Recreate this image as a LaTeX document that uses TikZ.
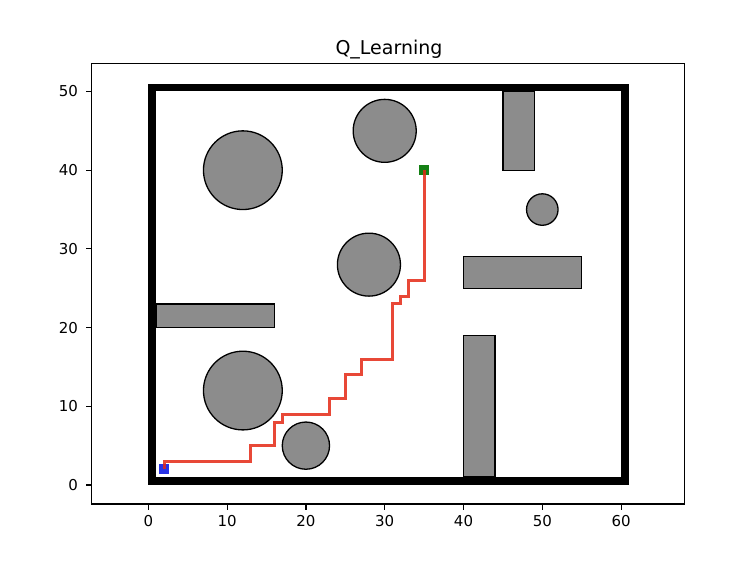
\documentclass[tikz,border=0pt]{standalone}
\usepackage{fontspec}
\setmainfont{DejaVu Sans}
\begin{document}
\begin{tikzpicture}[x=1pt,y=1pt,
  obst/.style={fill=obgray,draw=black,line width=1.3pt},
  wall/.style={fill=black,draw=none},
  tick/.style={line width=1.2pt},
  ticklab/.style={font=\fontsize{15}{18}\selectfont,inner sep=0pt},
  route/.style={draw=routered,line width=3pt,opacity=0.85},
  marker/.style={minimum size=10pt,inner sep=0pt,draw=none}]
\definecolor{obgray}{RGB}{140,140,140}
\definecolor{routered}{RGB}{228,40,20}
\definecolor{startblue}{RGB}{40,50,230}
\definecolor{goalgreen}{RGB}{20,128,20}
\useasboundingbox (0,0) rectangle (756,565);
\node[font=\fontsize{19}{22}\selectfont,anchor=base] (title) at (389,510) {Q\_Learning};
\begin{scope}[shift={(148.3,80)},x=7.88pt,y=7.87pt]
  % axes frame
  \draw[line width=1.2pt] (-7.18,-2.41) rectangle (68.0,53.58);
  % ticks
  \foreach \v in {0,10,...,60} {
    \draw[tick] (\v,-2.41) -- ++(0,-5.7pt);
    \node[ticklab,anchor=north] (xt\v) at ([yshift=-11pt]\v,-2.41) {\v};
  }
  \foreach \v in {0,10,...,50} {
    \draw[tick] (-7.18,\v) -- ++(-5.7pt,0);
    \node[ticklab,anchor=east] (yt\v) at ([xshift=-13.5pt]-7.18,\v) {\v};
  }
  % obstacles
  \draw[obst] (12,40) circle[radius=5];
  \draw[obst] (30,45) circle[radius=4];
  \draw[obst] (28,28) circle[radius=4];
  \draw[obst] (50,35) circle[radius=2];
  \draw[obst] (12,12) circle[radius=5];
  \draw[obst] (20,5) circle[radius=3];
  \draw[obst] (1,20) rectangle (16,23);
  \draw[obst] (45,40) rectangle (49,50);
  \draw[obst] (40,25) rectangle (55,29);
  \draw[obst] (40,1) rectangle (44,19);
  % walls
  \fill[wall] (0,0) rectangle (1,51);
  \fill[wall] (60,0) rectangle (61,51);
  \fill[wall] (0,0) rectangle (61,1);
  \fill[wall] (0,50) rectangle (61,51);
  % start and goal
  \node[marker,fill=startblue] (start) at (2,2) {};
  \node[marker,fill=goalgreen] (goal) at (35,40) {};
  % route
  \draw[route,line join=miter] (start.center) -- (2,3) -- (13,3) -- (13,5) -- (16,5) -- (16,8) -- (17,8) -- (17,9)
    -- (23,9) -- (23,11) -- (25,11) -- (25,14) -- (27,14) -- (27,16) -- (31,16) -- (31,23)
    -- (32,23) -- (32,24) -- (33,24) -- (33,26) -- (35,26) -- (goal.center);
\end{scope}
\end{tikzpicture}
\end{document}
